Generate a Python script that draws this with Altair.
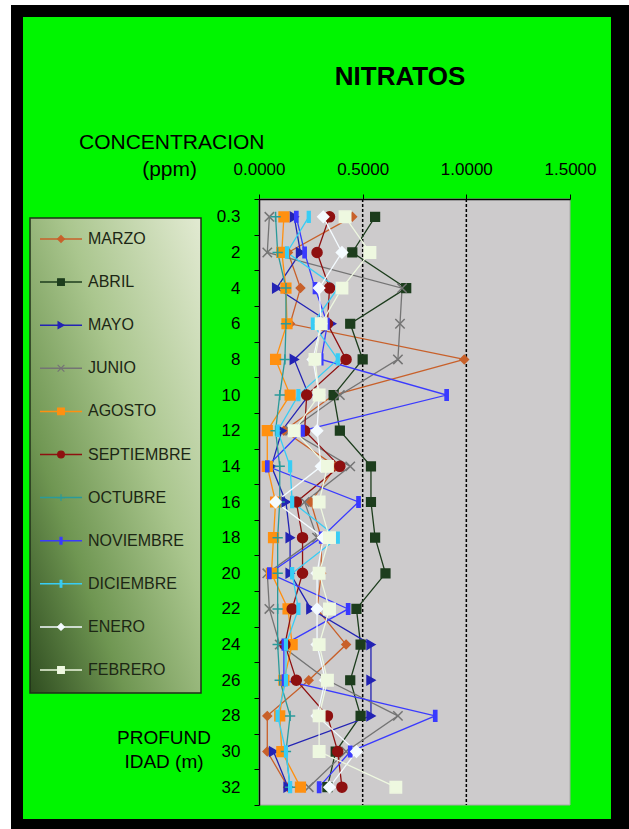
import altair as alt
import pandas as pd

# Sampling depths (m) and months
depths = ["0.3", "2", "4", "6", "8", "10", "12", "14", "16",
          "18", "20", "22", "24", "26", "28", "30", "32"]
months = ["MARZO", "ABRIL", "MAYO", "JUNIO", "AGOSTO", "SEPTIEMBRE",
          "OCTUBRE", "NOVIEMBRE", "DICIEMBRE", "ENERO", "FEBRERO"]

# Nitrate concentration (ppm) per month, ordered by depth
marzo = [0.45, 0.14, 0.20, 0.15, 0.99, 0.36, 0.12, 0.37, 0.25, 0.30, 0.30, 0.28, 0.42, 0.24, 0.04, 0.04, 0.14]
abril = [0.56, 0.45, 0.71, 0.44, 0.50, 0.36, 0.39, 0.54, 0.54, 0.56, 0.61, 0.47, 0.49, 0.44, 0.49, 0.37, 0.33]
mayo = [0.17, 0.20, 0.085, 0.35, 0.17, 0.24, 0.11, 0.06, 0.13, 0.15, 0.15, 0.25, 0.54, 0.54, 0.54, 0.07, 0.14]
junio = [0.05, 0.04, 0.69, 0.68, 0.67, 0.39, 0.15, 0.44, 0.22, 0.28, 0.04, 0.05, 0.10, 0.33, 0.67, 0.42, 0.24]
agosto = [0.12, 0.11, 0.13, 0.135, 0.08, 0.15, 0.04, 0.04, 0.08, 0.07, 0.06, 0.14, 0.16, 0.12, 0.10, 0.11, 0.20]
septiembre = [0.34, 0.28, 0.34, 0.33, 0.42, 0.23, 0.22, 0.39, 0.18, 0.21, 0.21, 0.16, 0.125, 0.18, 0.33, 0.38, 0.40]
octubre = [0.08, 0.09, 0.13, 0.13, 0.125, 0.10, 0.08, 0.10, 0.10, 0.09, 0.09, 0.09, 0.09, 0.10, 0.15, 0.13, 0.15]
noviembre = [0.18, 0.22, 0.27, 0.33, 0.30, 0.905, 0.21, 0.04, 0.48, 0.30, 0.05, 0.43, 0.12, 0.12, 0.85, 0.44, 0.29]
diciembre = [0.24, 0.135, 0.38, 0.26, 0.38, 0.19, 0.09, 0.15, 0.16, 0.38, 0.16, 0.19, 0.13, 0.13, 0.09, 0.13, 0.15]
enero = [0.31, 0.40, 0.29, 0.30, 0.26, 0.29, 0.28, 0.30, 0.08, 0.31, 0.28, 0.28, 0.28, 0.32, 0.28, 0.47, 0.34]
febrero = [0.415, 0.535, 0.40, 0.30, 0.27, 0.29, 0.17, 0.33, 0.29, 0.34, 0.29, 0.34, 0.29, 0.33, 0.29, 0.29, 0.66]

series = [marzo, abril, mayo, junio, agosto, septiembre,
          octubre, noviembre, diciembre, enero, febrero]

x_ticks = [0.0, 0.5, 1.0, 1.5]
ref_lines = [0.5, 1.0]

# Styling per month
colors = ["#c8602a", "#1d3d1d", "#2323b4", "#747474", "#ff9010", "#8e1010",
          "#2a9a9a", "#3a3aff", "#38cdf5", "#f4fbff", "#eef8e0"]
shapes = ["diamond", "square", "triangle-right", "M-1,-1L1,1M-1,1L1,-1", "square", "circle",
          "M-1,0L1,0M0,-1L0,1", "M-0.3,-1H0.3V1H-0.3Z", "M-0.25,-1H0.25V1H-0.25Z",
          "diamond", "square"]
sizes = [70, 130, 110, 100, 100, 130, 110, 60, 150, 80, 150]

FONT = "Liberation Sans"
W, H = 311, 606
PAD_L, PAD_T, PAD_R, PAD_B = 259, 199, 59, 24

rows = []
for m, vals in zip(months, series):
    for i, (d, v) in enumerate(zip(depths, vals)):
        rows.append({"month": m, "depth": d, "idx": i, "value": v})
df = pd.DataFrame(rows)
legend_df = pd.DataFrame({"month": months, "lidx": list(range(len(months)))})
ref_df = pd.DataFrame({"value": ref_lines})

color_scale = alt.Scale(domain=months, range=colors)
shape_scale = alt.Scale(domain=months, range=shapes)
size_scale = alt.Scale(domain=months, range=sizes)

x_enc = alt.X("value:Q", scale=alt.Scale(domain=[0, 1.5], nice=False, zero=False),
              axis=alt.Axis(orient="top", values=x_ticks, format=".4f", title=None,
                            grid=False, labelFontSize=17, labelFont=FONT,
                            labelColor="black", tickColor="black", tickSize=5,
                            labelPadding=16, labelFlush=False,
                            domainColor="black", domainWidth=1.5, zindex=2))
y_enc = alt.Y("depth:N", sort=depths,
              scale=alt.Scale(paddingInner=0, paddingOuter=0),
              axis=alt.Axis(title=None, labelFontSize=17, labelFont=FONT,
                            labelColor="black", tickColor="black", tickSize=5,
                            tickBand="extent", labelPadding=14,
                            domainColor="black", domainWidth=1.5, zindex=2))

# Frame, background and plot panel
def box(x1, x2, y1, y2, **kw):
    return alt.Chart(pd.DataFrame({"k": [0]})).mark_rect(**kw).encode(
        x=alt.value(x1), x2=alt.value(x2), y=alt.value(y1), y2=alt.value(y2))

frame = box(11 - PAD_L, 629 - PAD_L, 5 - PAD_T, 829 - PAD_T, fill="black")
green = box(23 - PAD_L, 611 - PAD_L, 17 - PAD_T, 819 - PAD_T, fill="#00f500")
panel = box(0, W, 0, H, fill="#cdcbcc", stroke="#a8a8a8", strokeWidth=1)

legend_grad = alt.Gradient(
    gradient="linear", x1=1, y1=0, x2=0, y2=1,
    stops=[alt.GradientStop(color="#e2ead2", offset=0),
           alt.GradientStop(color="#aac68e", offset=0.4),
           alt.GradientStop(color="#6f9652", offset=0.72),
           alt.GradientStop(color="#2f4d20", offset=1)])
legend_box = box(30 - PAD_L, 201 - PAD_L, 218 - PAD_T, 693 - PAD_T,
                 fill=legend_grad, stroke="#1f2f18", strokeWidth=1.5)

# Data layers
refs = alt.Chart(ref_df).mark_rule(color="black", strokeDash=[3, 2], strokeWidth=1.5).encode(
    x=x_enc)
lines = alt.Chart(df).mark_line(strokeWidth=1.3).encode(
    x=x_enc, y=y_enc,
    color=alt.Color("month:N", scale=color_scale, legend=None),
    detail="month:N",
    order=alt.Order("idx:Q"))
points = alt.Chart(df).mark_point(filled=True, opacity=1, strokeWidth=1.5).encode(
    x=x_enc, y=y_enc,
    fill=alt.Fill("month:N", scale=color_scale, legend=None),
    stroke=alt.Stroke("month:N", scale=color_scale, legend=None),
    shape=alt.Shape("month:N", scale=shape_scale, legend=None),
    size=alt.Size("month:N", scale=size_scale, legend=None))
main = alt.layer(refs, lines, points)

# Legend panel
ly = alt.Y("lidx:Q", scale=alt.Scale(domain=[0, len(months) - 1], range=[239 - PAD_T, 670 - PAD_T]),
           axis=None)
leg_lines = alt.Chart(legend_df).mark_rule(strokeWidth=1.5).encode(
    x=alt.value(40 - PAD_L), x2=alt.value(82 - PAD_L), y=ly,
    color=alt.Color("month:N", scale=color_scale, legend=None))
leg_pts = alt.Chart(legend_df).mark_point(filled=True, opacity=1, strokeWidth=1.2, size=45).encode(
    x=alt.value(61 - PAD_L), y=ly,
    fill=alt.Fill("month:N", scale=color_scale, legend=None),
    stroke=alt.Stroke("month:N", scale=color_scale, legend=None),
    shape=alt.Shape("month:N", scale=shape_scale, legend=None))
leg_txt = alt.Chart(legend_df).mark_text(align="left", baseline="middle", font=FONT,
                                         fontSize=16, color="#1c2614").encode(
    x=alt.value(88 - PAD_L), y=ly, text="month:N")
legend = alt.layer(leg_lines, leg_pts, leg_txt)

# Titles
def label(txt, x, y, **kw):
    return alt.Chart(pd.DataFrame({"t": [txt]})).mark_text(font=FONT, color="black",
                                                           baseline="middle", **kw).encode(
        x=alt.value(x - PAD_L), y=alt.value(y - PAD_T), text="t:N")

title = label("NITRATOS", 400, 77, fontSize=26, fontWeight="bold", align="center")
conc = label("CONCENTRACION", 79, 143, fontSize=21, align="left")
ppm = label("(ppm)", 197, 170, fontSize=21, align="right")
prof1 = label("PROFUND", 164, 738, fontSize=19, align="center")
prof2 = label("IDAD (m)", 164, 762, fontSize=19, align="center")

chart = alt.layer(
    frame, green, panel, legend_box, main, legend, title, conc, ppm, prof1, prof2
).resolve_scale(y="independent").properties(
    width=W, height=H,
    autosize=alt.AutoSizeParams(type="none"),
    padding={"left": PAD_L, "top": PAD_T, "right": PAD_R, "bottom": PAD_B},
    background="white",
).configure_view(stroke=None)

chart.save("out.html", embed_options={"renderer": "svg", "actions": False})
